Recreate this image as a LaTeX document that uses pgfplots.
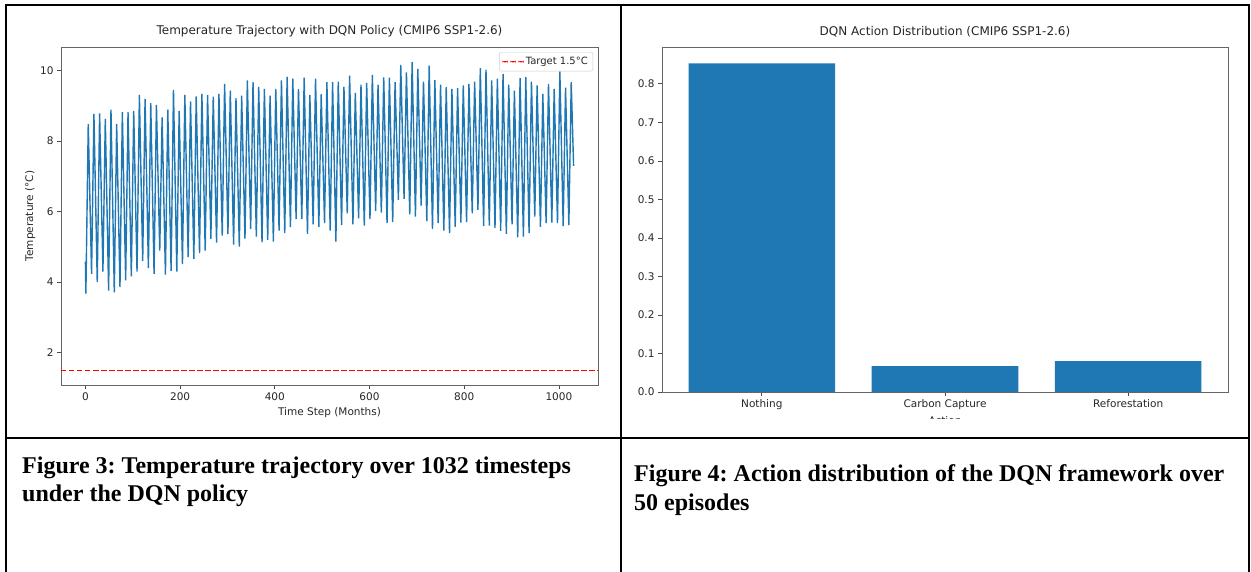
\documentclass[border=0pt]{standalone}
\usepackage{fontspec}
\setmainfont{DejaVu Sans}
\newfontfamily\capfont{Liberation Serif}
\usepackage{pgfplots}
\pgfplotsset{compat=1.18}
\definecolor{tabblue}{RGB}{31,119,180}
\definecolor{mplred}{RGB}{255,0,0}
\pgfplotsset{mplstyle/.style={
  scale only axis,
  axis line style={black!60, line width=0.8pt},
  tick style={black!70, line width=0.8pt},
  major tick length=4pt,
  tick align=outside, tick pos=left,
  ticklabel style={font=\fontsize{10.5}{12}\selectfont, text=black!85},
  label style={font=\fontsize{10.5}{12}\selectfont, text=black!85},
  title style={font=\fontsize{12}{14}\selectfont, text=black!85},
  /pgf/number format/assume math mode=true,
  /pgf/number format/set thousands separator={},
}}
\begin{document}
\frenchspacing
\begin{tikzpicture}
\useasboundingbox (0,0) rectangle (1251pt,-571pt);
% left chart
\begin{axis}[mplstyle,
  at={(61pt,-47pt)}, anchor=north west, width=537pt, height=338pt,
  xmin=-51.55, xmax=1082.55, ymin=1.08, ymax=10.67,
  xtick={0,200,400,600,800,1000}, ytick={2,4,6,8,10},
  title={Temperature Trajectory with DQN Policy (CMIP6 SSP1-2.6)},
  xlabel={Time Step (Months)}, ylabel={Temperature (°C)},
  ylabel style={yshift=-2pt},
  legend style={at={(1,1)}, anchor=north east, xshift=-5pt, yshift=-5pt,
    draw=black!20, rounded corners=2pt, font=\fontsize{10}{12}\selectfont,
    inner sep=3pt},
  legend cell align=left,
  legend image code/.code={%
    \path[fill=mplred, draw=none] (0pt,-0.65pt) rectangle (5.5pt,0.65pt);
    \path[fill=mplred, draw=none] (8pt,-0.65pt) rectangle (13.5pt,0.65pt);
    \path[fill=mplred, draw=none] (16pt,-0.65pt) rectangle (21.5pt,0.65pt);},
]
\addplot[tabblue, line width=1.4pt, forget plot] coordinates {
(0,4.58)
(1,3.67) (6,8.49) (13,4.23) (18,8.77) (25,4.00) (30,8.79) (37,4.30) (42,8.63)
(49,3.76) (54,8.89) (61,3.71) (66,8.49) (73,3.86) (78,8.82) (85,4.05) (90,8.82)
(97,4.16) (102,8.85) (109,4.30) (114,9.31) (121,4.60) (126,9.20) (133,4.40) (138,9.08)
(145,4.23) (150,9.03) (157,4.89) (162,8.67) (169,4.21) (174,8.89) (181,4.32) (186,9.45)
(193,4.30) (198,8.86) (205,4.51) (210,9.31) (217,4.71) (222,9.13) (229,4.66) (234,9.27)
(241,4.82) (246,9.34) (253,4.89) (258,9.31) (265,5.23) (270,9.26) (277,5.12) (282,9.34)
(289,5.32) (294,9.62) (301,5.36) (306,9.43) (313,5.06) (318,9.22) (325,5.01) (330,9.29)
(337,5.23) (342,9.72) (349,5.51) (354,9.67) (361,5.29) (366,9.54) (373,5.13) (378,9.48)
(385,5.20) (390,9.29) (397,5.15) (402,9.48) (409,5.46) (414,9.72) (421,5.39) (426,9.82)
(433,5.56) (438,9.77) (445,5.79) (450,9.48) (457,5.79) (462,9.80) (469,5.37) (474,9.31)
(481,5.64) (486,9.77) (493,5.57) (498,9.33) (505,5.67) (510,9.67) (517,5.46) (522,9.67)
(529,5.15) (534,9.69) (541,5.62) (546,9.54) (553,5.95) (558,9.86) (565,5.64) (570,9.37)
(577,5.81) (582,9.60) (589,5.60) (594,9.65) (601,5.79) (606,9.88) (613,6.02) (618,9.60)
(625,5.97) (630,9.81) (637,5.67) (642,9.80) (649,5.70) (654,9.67) (661,6.33) (666,10.16)
(673,6.36) (678,9.95) (685,5.92) (690,10.24) (697,5.86) (702,10.05) (709,6.17) (714,9.69)
(721,5.73) (726,10.14) (733,5.51) (738,9.73) (745,5.67) (750,9.60) (757,5.46) (762,9.53)
(769,5.39) (774,9.48) (781,5.57) (786,9.50) (793,5.69) (798,9.58) (805,5.70) (810,9.62)
(817,5.95) (822,9.69) (829,6.05) (834,10.07) (841,5.59) (846,10.03) (853,5.60) (858,9.72)
(865,5.53) (870,9.77) (877,5.45) (882,9.91) (889,5.37) (894,9.60) (901,5.64) (906,9.43)
(913,5.27) (918,9.79) (925,5.29) (930,9.82) (937,5.39) (942,9.69) (949,5.86) (954,9.58)
(961,5.57) (966,9.34) (973,5.67) (978,9.62) (985,5.69) (990,9.48) (997,5.67) (1002,9.98)
(1009,5.59) (1014,9.52) (1021,5.62) (1026,9.67) (1031,7.30)
};
\addplot[mplred, line width=1.2pt, dash pattern=on 5.5pt off 2.5pt] coordinates {(-51.55,1.5) (1082.55,1.5)};
\addlegendentry{\textcolor{black!85}{Target 1.5°C}}
\end{axis}
% right chart
\begin{axis}[mplstyle,
  at={(662pt,-47pt)}, anchor=north west, width=566pt, height=345pt,
  xmin=-0.545, xmax=2.545, ymin=0, ymax=0.8957,
  xtick={0,1,2}, xticklabels={Nothing,Carbon Capture,Reforestation},
  ytick={0,0.1,0.2,0.3,0.4,0.5,0.6,0.7,0.8},
  yticklabel style={/pgf/number format/.cd, fixed, fixed zerofill, precision=1},
  title={DQN Action Distribution (CMIP6 SSP1-2.6)},
  xlabel={Action},
]
\addplot[ybar, bar width=0.8, fill=tabblue, draw=none] coordinates {(0,0.853) (1,0.067) (2,0.080)};
\end{axis}
\fill[white] (624pt,-419pt) rectangle (1247pt,-436.5pt);
% table rules
\draw[line width=2pt] (5pt,-5pt) -- (1250pt,-5pt);
\draw[line width=2pt] (6pt,-4pt) -- (6pt,-575pt);
\draw[line width=2pt] (621pt,-4pt) -- (621pt,-575pt);
\draw[line width=2pt] (1249pt,-4pt) -- (1249pt,-575pt);
\draw[line width=2pt] (5pt,-438pt) -- (1250pt,-438pt);
% captions
\begin{scope}[every node/.style={anchor=base west, inner sep=0pt, font=\capfont\bfseries\fontsize{24}{28}\selectfont}]
\node at (22pt,-473pt) {Figure 3: Temperature trajectory over 1032 timesteps};
\node at (22pt,-501pt) {under the DQN policy};
\node at (634pt,-481pt) {Figure 4: Action distribution of the DQN framework over};
\node at (634pt,-510pt) {50 episodes};
\end{scope}
\end{tikzpicture}
\end{document}
